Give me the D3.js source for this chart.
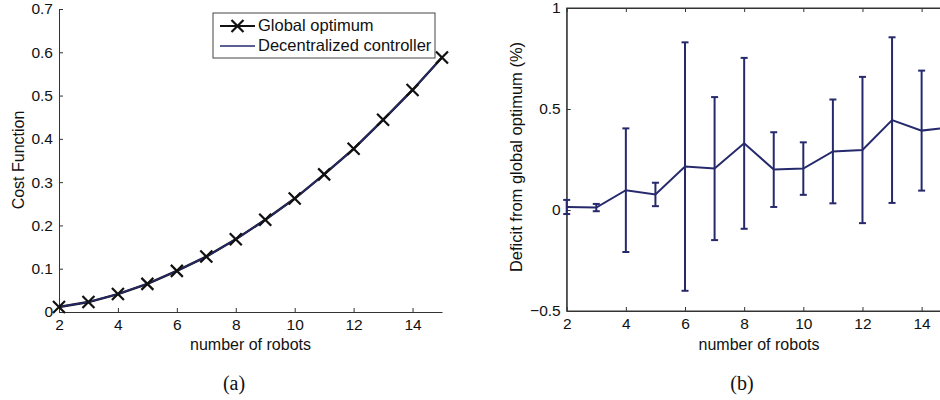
<!DOCTYPE html>
<html>
<head>
<meta charset="utf-8">
<script src="https://cdn.jsdelivr.net/npm/d3@7"></script>
<style>
  html, body { margin: 0; padding: 0; background: #fff; }
  svg { display: block; }
  text { font-family: "Liberation Sans", Arial, sans-serif; fill: #111; }
  .caption { font-family: "Liberation Serif", "Times New Roman", serif; }
</style>
</head>
<body>
<svg id="fig" width="940" height="400"></svg>
<script>
// Number of robots in the team
const robots = [2, 3, 4, 5, 6, 7, 8, 9, 10, 11, 12, 13, 14, 15];

// (a) cost function of the global optimum and the decentralized controller
const globalOptimum = [0.0115, 0.023, 0.0415, 0.065, 0.095, 0.128, 0.168, 0.213, 0.262, 0.318, 0.377, 0.444, 0.513, 0.588];
const decentralized = [0.0115, 0.023, 0.0415, 0.065, 0.095, 0.128, 0.168, 0.213, 0.262, 0.318, 0.377, 0.444, 0.513, 0.588];

// (b) deficit from global optimum (%), mean and half-width of the error bar
const deficitMean = [0.015, 0.012, 0.098, 0.077, 0.215, 0.205, 0.330, 0.200, 0.205, 0.290, 0.297, 0.445, 0.393, 0.41];
const deficitErr  = [0.035, 0.018, 0.306, 0.058, 0.615, 0.354, 0.423, 0.185, 0.130, 0.257, 0.362, 0.410, 0.297, 0.30];

// Tick values
const xTicks = [2, 4, 6, 8, 10, 12, 14];
const yTicksA = [0, 0.1, 0.2, 0.3, 0.4, 0.5, 0.6, 0.7];
const yTicksB = [-0.5, 0, 0.5, 1];

const legendLabels = ["Global optimum", "Decentralized controller"];

const navy = "#262a6c";
const axisColor = "#333";
const svg = d3.select("#fig");

function fmtA(d) { return d === 0 ? "0" : d3.format(".1f")(d); }
function fmtB(d) { return d === 0 ? "0" : (d === 1 ? "1" : d3.format(".1f")(d).replace("-", "\u2212")); }

function styleAxis(g) {
  g.select(".domain").attr("stroke", axisColor).attr("stroke-width", 1);
  g.selectAll(".tick line").attr("stroke", axisColor).attr("stroke-width", 1);
  g.selectAll(".tick text").attr("font-size", 15.5).attr("fill", "#111")
    .attr("font-family", "Liberation Sans, Arial, sans-serif");
}

// "x" marker of half-width 6 px
const cross = "M-6,-6L6,6M-6,6L6,-6";

// ---------------- Panel (a) ----------------
const xA = d3.scaleLinear().domain([2, 15]).range([59, 442]);
const yA = d3.scaleLinear().domain([0, 0.7]).range([312, 9]);
const gA = svg.append("g");

gA.append("g").attr("transform", `translate(0,${yA(0)})`)
  .call(d3.axisBottom(xA).tickValues(xTicks).tickSize(-4).tickSizeOuter(0).tickPadding(7))
  .call(styleAxis);
gA.append("g").attr("transform", `translate(${xA(2)},0)`)
  .call(d3.axisLeft(yA).tickValues(yTicksA).tickFormat(fmtA).tickSize(-4).tickSizeOuter(0).tickPadding(6))
  .call(styleAxis);

const lineA = d3.line().x((d, i) => xA(robots[i])).y(d => yA(d));
gA.append("path").datum(globalOptimum).attr("d", lineA)
  .attr("fill", "none").attr("stroke", "#111").attr("stroke-width", 2.4);
gA.append("path").datum(decentralized).attr("d", lineA)
  .attr("fill", "none").attr("stroke", navy).attr("stroke-width", 1.6);

gA.selectAll("path.mk").data(globalOptimum).enter().append("path")
  .attr("class", "mk").attr("d", cross)
  .attr("transform", (d, i) => `translate(${xA(robots[i])},${yA(d)})`)
  .attr("fill", "none").attr("stroke", "#111").attr("stroke-width", 2.2);

gA.append("text").attr("x", (xA(2) + xA(15)) / 2).attr("y", 350)
  .attr("text-anchor", "middle").attr("font-size", 16).text("number of robots");
gA.append("text").attr("transform", "translate(24,160) rotate(-90)")
  .attr("text-anchor", "middle").attr("font-size", 16).text("Cost Function");

// legend
const leg = gA.append("g");
leg.append("rect").attr("x", 213).attr("y", 13).attr("width", 222).attr("height", 45)
  .attr("fill", "#fff").attr("stroke", "#444").attr("stroke-width", 1);
leg.append("line").attr("x1", 220).attr("x2", 255).attr("y1", 26).attr("y2", 26)
  .attr("stroke", "#111").attr("stroke-width", 2.2);
leg.append("path").attr("d", cross).attr("transform", "translate(237.5,26)")
  .attr("fill", "none").attr("stroke", "#111").attr("stroke-width", 2.2);
leg.append("line").attr("x1", 220).attr("x2", 255).attr("y1", 46).attr("y2", 46)
  .attr("stroke", navy).attr("stroke-width", 1.6);
leg.selectAll("text.lg").data(legendLabels).enter().append("text")
  .attr("class", "lg").attr("x", 258).attr("y", (d, i) => 31 + i * 20)
  .attr("font-size", 16.5).text(d => d);

svg.append("text").attr("class", "caption").attr("x", 234).attr("y", 390)
  .attr("text-anchor", "middle").attr("font-size", 20).text("(a)");

// ---------------- Panel (b) ----------------
const xB = d3.scaleLinear().domain([2, 15]).range([566.7, 951.2]);
const yB = d3.scaleLinear().domain([-0.5, 1]).range([311, 8]);
const gB = svg.append("g");

gB.append("rect").attr("x", xB(2)).attr("y", yB(1))
  .attr("width", xB(15) - xB(2)).attr("height", yB(-0.5) - yB(1))
  .attr("fill", "none").attr("stroke", axisColor).attr("stroke-width", 1);
gB.append("g").attr("transform", `translate(0,${yB(-0.5)})`)
  .call(d3.axisBottom(xB).tickValues(xTicks).tickSize(-4).tickSizeOuter(0).tickPadding(7))
  .call(styleAxis);
gB.append("g").attr("transform", `translate(0,${yB(1)})`)
  .call(d3.axisTop(xB).tickValues(xTicks).tickSize(-4).tickSizeOuter(0).tickFormat(""))
  .call(styleAxis);
gB.append("g").attr("transform", `translate(${xB(2)},0)`)
  .call(d3.axisLeft(yB).tickValues(yTicksB).tickFormat(fmtB).tickSize(-4).tickSizeOuter(0).tickPadding(6))
  .call(styleAxis);

const lineB = d3.line().x((d, i) => xB(robots[i])).y(d => yB(d));
gB.append("path").datum(deficitMean).attr("d", lineB)
  .attr("fill", "none").attr("stroke", navy).attr("stroke-width", 2);

const bars = gB.selectAll("g.eb").data(deficitMean).enter().append("g").attr("class", "eb");
bars.append("line")
  .attr("x1", (d, i) => xB(robots[i])).attr("x2", (d, i) => xB(robots[i]))
  .attr("y1", (d, i) => yB(d + deficitErr[i])).attr("y2", (d, i) => yB(d - deficitErr[i]))
  .attr("stroke", navy).attr("stroke-width", 2);
[1, -1].forEach(s => {
  bars.append("line")
    .attr("x1", (d, i) => xB(robots[i]) - 3.5).attr("x2", (d, i) => xB(robots[i]) + 3.5)
    .attr("y1", (d, i) => yB(d + s * deficitErr[i])).attr("y2", (d, i) => yB(d + s * deficitErr[i]))
    .attr("stroke", navy).attr("stroke-width", 2);
});

gB.append("text").attr("x", 759).attr("y", 350)
  .attr("text-anchor", "middle").attr("font-size", 16).text("number of robots");
gB.append("text").attr("transform", "translate(522,157) rotate(-90)")
  .attr("text-anchor", "middle").attr("font-size", 16.5).text("Deficit from global optimum (%)");

svg.append("text").attr("class", "caption").attr("x", 742).attr("y", 390)
  .attr("text-anchor", "middle").attr("font-size", 20).text("(b)");
</script>
</body>
</html>
